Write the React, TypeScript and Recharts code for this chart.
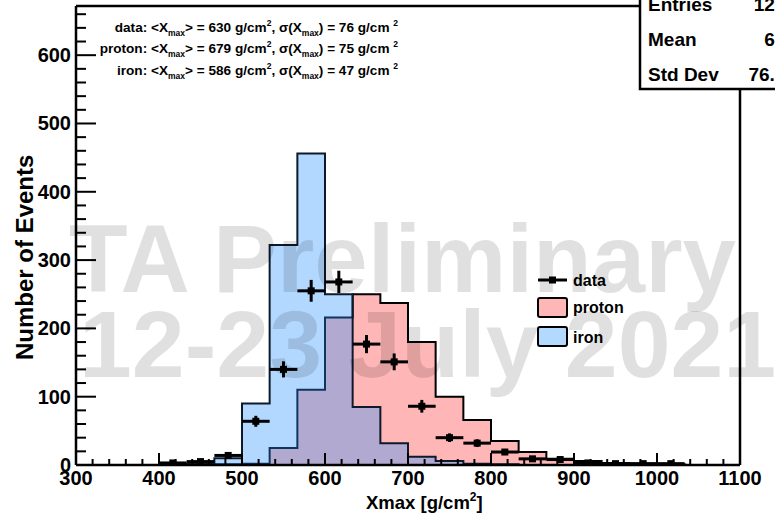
import {
  Area,
  ComposedChart,
  ErrorBar,
  ReferenceLine,
  Scatter,
  XAxis,
  YAxis,
} from "recharts";

// bin edges of the Xmax histogram (24 bins, 300..1100 g/cm2)
const binEdges = [
  300, 333.3, 366.7, 400, 433.3, 466.7, 500, 533.3, 566.7, 600, 633.3, 666.7, 700,
  733.3, 766.7, 800, 833.3, 866.7, 900, 933.3, 966.7, 1000, 1033.3, 1066.7, 1100,
];
const protonCounts = [0, 0, 0, 0, 0, 1, 2, 25, 110, 216, 250, 237, 180, 100, 66, 35, 19, 9, 6, 3, 2, 1, 0, 0];
const ironCounts = [0, 0, 0, 1, 2, 10, 90, 322, 456, 250, 85, 32, 12, 6, 2, 1, 0, 0, 0, 0, 0, 0, 0, 0];
const dataCounts = [0, 0, 0, 3, 5, 14, 64, 140, 255, 268, 177, 151, 86, 40, 32, 19, 9, 8, 3, 2, 2, 2, 0, 0];
const dataErrors = [0, 0, 0, 1.7, 2.2, 3.7, 8, 11.8, 16, 16.4, 13.3, 12.3, 9.3, 6.3, 5.7, 4.4, 3, 2.8, 1.7, 1.4, 1.4, 1.4, 0, 0];

const xMajorTicks = [300, 400, 500, 600, 700, 800, 900, 1000, 1100];
const yMajorTicks = [0, 100, 200, 300, 400, 500, 600];
const Y_MAX = 672;

const statLabels = ["Entries", "Mean", "Std Dev"];
const statValues = ["1280", "630", "76.22"];

const annoNames = ["data", "proton", "iron"];
const annoMeans = [630, 679, 586];
const annoSigmas = [76, 75, 47];

const FONT = "'Liberation Sans', Arial, Helvetica, sans-serif";
const PINK = "#ffb6b6";
const IRON_FILL = "#2a94ff";
const IRON_ALPHA = 0.36;

const histData = binEdges.map((x, i) => ({
  x,
  proton: protonCounts[i] ?? 0,
  iron: ironCounts[i] ?? 0,
}));

const dataPoints = dataCounts
  .map((n, i) => ({
    x: (binEdges[i] + binEdges[i + 1]) / 2,
    y: n,
    ex: (binEdges[i + 1] - binEdges[i]) / 2,
    ey: dataErrors[i],
  }))
  .filter((p) => p.y > 0);

const xTicks: number[] = [];
for (let v = 300; v <= 1100; v += 20) xTicks.push(v);
const yTicks: number[] = [];
for (let v = 0; v <= 660; v += 20) yTicks.push(v);

const renderXTick = (props: any) => {
  const {x, y, payload} = props;
  const major = xMajorTicks.includes(payload.value);
  return (
    <g key={`xt-${payload.value}`}>
      <line x1={x} x2={x} y1={y} y2={y - (major ? 12 : 6)} stroke="#000" strokeWidth={2} />
      {major && (
        <text x={x} y={y + 20} textAnchor="middle" fontSize={20} fontWeight="bold" fontFamily={FONT} fill="#000">
          {payload.value}
        </text>
      )}
    </g>
  );
};

const renderYTick = (props: any) => {
  const {x, y, payload} = props;
  const major = yMajorTicks.includes(payload.value);
  return (
    <g key={`yt-${payload.value}`}>
      <line x1={x} x2={x + (major ? 20 : 10)} y1={y} y2={y} stroke="#000" strokeWidth={2} />
      {major && (
        <text x={x - 5} y={y + 7} textAnchor="end" fontSize={20} fontWeight="bold" fontFamily={FONT} fill="#000">
          {payload.value}
        </text>
      )}
    </g>
  );
};

function DataMarker(props: any) {
  const {cx, cy} = props;
  return <rect x={cx - 3.5} y={cy - 3.5} width={7} height={7} fill="#000" />;
}

function AnnoRow({i, y}: {i: number; y: number}) {
  return (
    <text x={398} y={y} textAnchor="end" fontSize={13.6} fontWeight="bold" fontFamily={FONT} fill="#000">
      {annoNames[i]}: &lt;X
      <tspan fontSize={8.5} dy={4}>max</tspan>
      <tspan dy={-4}>{`> = ${annoMeans[i]} g/cm`}</tspan>
      <tspan fontSize={8.5} dy={-6}>2</tspan>
      <tspan dy={6}>, σ(X</tspan>
      <tspan fontSize={8.5} dy={4}>max</tspan>
      <tspan dy={-4}>{`) = ${annoSigmas[i]} g/cm `}</tspan>
      <tspan fontSize={8.5} dy={-6}>2</tspan>
    </text>
  );
}

export default function App() {
  return (
    <div style={{position: "absolute", left: 0, top: 0, width: 775, height: 519, background: "#fff"}}>
      <ComposedChart
        width={775}
        height={519}
        data={histData}
        margin={{top: 6, right: 35, bottom: 14, left: 16}}
      >
        <XAxis
          dataKey="x"
          type="number"
          domain={[300, 1100]}
          ticks={xTicks}
          interval={0}
          height={40}
          tickSize={0}
          tickMargin={0}
          tickLine={false}
          tick={renderXTick}
          axisLine={{stroke: "#000", strokeWidth: 2.5}}
          allowDataOverflow
        />
        <YAxis
          type="number"
          domain={[0, Y_MAX]}
          ticks={yTicks}
          interval={0}
          width={60}
          tickSize={0}
          tickMargin={0}
          tickLine={false}
          tick={renderYTick}
          axisLine={{stroke: "#000", strokeWidth: 2.5}}
          allowDataOverflow
        />
        <Area
          type="stepAfter"
          dataKey="proton"
          fill={PINK}
          fillOpacity={1}
          stroke="#000"
          strokeWidth={2}
          dot={false}
          activeDot={false}
          isAnimationActive={false}
        />
        <Area
          type="stepAfter"
          dataKey="iron"
          fill={IRON_FILL}
          fillOpacity={IRON_ALPHA}
          stroke="#0c1a2c"
          strokeWidth={2}
          dot={false}
          activeDot={false}
          isAnimationActive={false}
        />
        <ReferenceLine x={1100} stroke="#000" strokeWidth={2.5} />
        <ReferenceLine y={Y_MAX} stroke="#000" strokeWidth={2.5} />
        <Scatter data={dataPoints} dataKey="y" shape={<DataMarker />} isAnimationActive={false}>
          <ErrorBar dataKey="ex" direction="x" width={0} stroke="#000" strokeWidth={3} isAnimationActive={false} />
          <ErrorBar dataKey="ey" direction="y" width={0} stroke="#000" strokeWidth={3} isAnimationActive={false} />
        </Scatter>
      </ComposedChart>

      <svg
        width={775}
        height={519}
        style={{position: "absolute", left: 0, top: 0, pointerEvents: "none"}}
        fontFamily={FONT}
      >
        {/* stats box, clipped by the page edge */}
        <rect x={640} y={-20} width={200} height={109} fill="#fff" stroke="#000" strokeWidth={2.5} />
        {statLabels.map((label, i) => (
          <g key={label}>
            <text x={648} y={11 + i * 35} fontSize={19} fontWeight="bold" fill="#000">
              {label}
            </text>
            <text x={796} y={11 + i * 35} textAnchor="end" fontSize={19} fontWeight="bold" fill="#000">
              {statValues[i]}
            </text>
          </g>
        ))}

        <AnnoRow i={0} y={32} />
        <AnnoRow i={1} y={53} />
        <AnnoRow i={2} y={75} />

        {/* legend */}
        <line x1={538} x2={567} y1={280} y2={280} stroke="#000" strokeWidth={3} />
        <rect x={549} y={276.5} width={7} height={7} fill="#000" />
        <text x={573} y={286} fontSize={16} fontWeight="bold" fill="#000">data</text>
        <rect x={538} y={298} width={29} height={19} rx={2} fill={PINK} stroke="#000" strokeWidth={2} />
        <text x={573} y={313} fontSize={16} fontWeight="bold" fill="#000">proton</text>
        <rect x={538} y={327} width={29} height={19} rx={2} fill="#b3d9ff" stroke="#000" strokeWidth={2} />
        <text x={573} y={343} fontSize={16} fontWeight="bold" fill="#000">iron</text>

        {/* axis titles */}
        <text x={366} y={509} fontSize={18.5} fontWeight="bold" fill="#000">
          Xmax [g/cm<tspan fontSize={12} dy={-8}>2</tspan>
          <tspan dy={8}>]</tspan>
        </text>
        <text transform="translate(33,360) rotate(-90)" fontSize={24} fontWeight="bold" fill="#000">
          Number of Events
        </text>

        {/* watermark */}
        <g fill="#000" fillOpacity={0.12} fontWeight="bold" fontSize={95}>
          <text x={69} y={292} fontSize={96}>TA Preliminary</text>
          <text x={79} y={377}>12-23 July 2021</text>
        </g>
      </svg>
    </div>
  );
}
